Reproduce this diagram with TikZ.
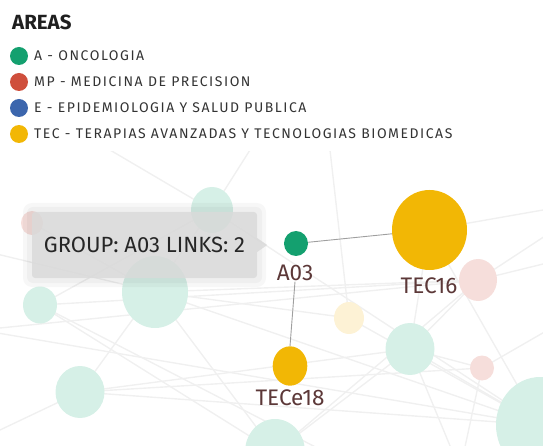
\documentclass[tikz,border=0pt]{standalone}
\usepackage{fontspec}
\setmainfont{Fira Sans}
\newfontfamily\legendfont[LetterSpace=11]{Fira Sans}
\usetikzlibrary{shapes.geometric}

\definecolor{oncoGreen}{HTML}{14A06F}
\definecolor{precRed}{HTML}{CF4F3C}
\definecolor{epiBlue}{HTML}{3C66AD}
\definecolor{tecYellow}{HTML}{F2B705}
\definecolor{fadeGreen}{HTML}{D6F0E7}
\definecolor{fadeRed}{HTML}{F6DEDB}
\definecolor{fadeYellow}{HTML}{FDF2D5}
\definecolor{labelBrown}{HTML}{5C3838}
\definecolor{webGrey}{HTML}{F0F0F0}
\definecolor{tipGrey}{HTML}{DADADA}

\tikzset{
  area/.style={circle,fill=#1,minimum size=18pt,inner sep=0pt},
  areatxt/.style={anchor=west,font=\legendfont\fontsize{14}{16}\selectfont,text=black!80,inner sep=0pt},
  blob/.style args={#1/#2/#3}{ellipse,fill=#1,minimum width=#2,minimum height=#3,inner sep=0pt},
  grouplabel/.style={font=\fontsize{22.5}{25}\selectfont,text=labelBrown,inner sep=1pt},
  link/.style={gray!75,line width=0.9pt},
  web/.style={webGrey,line width=1.4pt},
  tip/.style={fill=tipGrey,fill opacity=0.82,text opacity=1,rounded corners=3pt,minimum width=225pt,minimum height=66pt,font=\fontsize{22}{24}\selectfont,text=black!85}
}

\begin{document}
\begin{tikzpicture}[x=1pt,y=-1pt]
\useasboundingbox (0,0) rectangle (543,446);

% legend
\node[font=\bfseries\fontsize{20.5}{22}\selectfont,anchor=base west,inner sep=0pt,text=black!88] (title) at (12,29.5) {AREAS};
\foreach \col/\txt [count=\i] in {oncoGreen/A - ONCOLOGIA,precRed/MP - MEDICINA DE PRECISION,epiBlue/E - EPIDEMIOLOGIA Y SALUD PUBLICA,tecYellow/TEC - TERAPIAS AVANZADAS Y TECNOLOGIAS BIOMEDICAS}{
  \node[area=\col] (dot\i) at (19,30+26*\i) {};
  \node[areatxt] (key\i) at (34,30+26*\i) {\txt};
}

% faded network behind
\coordinate (g1) at (212,210);
\coordinate (g2) at (32,223);
\coordinate (g3) at (155,292);
\coordinate (g4) at (40,305);
\coordinate (g5) at (80,392);
\coordinate (g6) at (275,452);
\coordinate (g7) at (349,318);
\coordinate (g8) at (410,349);
\coordinate (g9) at (482,368);
\coordinate (g10) at (478,280);
\coordinate (g11) at (540,425);
\coordinate (g12) at (429,230);
\coordinate (o1) at (-20,330);
\coordinate (o2) at (600,200);
\coordinate (o3) at (600,300);
\coordinate (o4) at (0,430);
\coordinate (o5) at (150,470);
\coordinate (o6) at (250,150);
\coordinate (o7) at (110,150);
\coordinate (o8) at (-20,250);
\coordinate (o9) at (360,470);
\coordinate (o10) at (330,150);
\coordinate (o11) at (600,250);
\coordinate (o12) at (460,470);

\begin{scope}
\clip (-10,152) rectangle (553,456);
\foreach \a/\b in {g11/g3,g11/g5,g11/g1,g11/g8,g11/g7,g11/o1,g10/g3,g10/g8,g10/g6,g10/o2,g9/g8,g9/o3,g4/o9,g2/g3,g5/o4,g5/g8,g6/g8,g6/o5,g7/g3,g1/o6,g1/o7,g3/o8,g12/o2,g12/g11,g4/g1,g5/g1,g6/g3,g4/g6,g12/g8,g7/o10,g10/o1,g9/g5,g10/o11,g9/o12,g8/o12,g11/o11,g10/g4}
  \draw[web] (\a) -- (\b);
\end{scope}

\node[blob=fadeGreen/42pt/46pt] (bg1) at (g1) {};
\node[blob=fadeRed/22pt/24pt] (bg2) at (g2) {};
\node[blob=fadeGreen/66pt/72pt] (bg3) at (g3) {};
\node[blob=fadeGreen/34pt/37pt] (bg4) at (g4) {};
\node[blob=fadeGreen/49pt/52pt] (bg5) at (g5) {};
\node[blob=fadeGreen/60pt/66pt] (bg6) at (g6) {};
\node[blob=fadeYellow/30pt/32pt] (bg7) at (g7) {};
\node[blob=fadeGreen/49pt/52pt] (bg8) at (g8) {};
\node[blob=fadeRed/24pt/25pt] (bg9) at (g9) {};
\node[blob=fadeRed/38pt/42pt] (bg10) at (g10) {};
\node[blob=fadeGreen/88pt/96pt] (bg11) at (g11) {};

% highlighted group
\node[blob=oncoGreen/24pt/25pt] (A03) at (296,243.5) {};
\node[blob=tecYellow/75pt/80pt] (TEC16) at (429.5,230) {};
\node[blob=tecYellow/34.6pt/39.4pt] (TECe18) at (290,366) {};
\node[grouplabel] (A03lbl) at (295,272.5) {A03};
\node[grouplabel] (TEC16lbl) at (429,286) {TEC16};
\node[grouplabel] (TECe18lbl) at (290,398) {TECe18};
\draw[link] (A03) -- (TEC16);
\draw[link] (A03lbl.south) -- (TECe18.north);

% tooltip
\fill[black,opacity=0.03,rounded corners=9pt] (23,203) rectangle (266,287);
\fill[black,opacity=0.03,rounded corners=6pt] (27,207) rectangle (262,283);
\node[tip] (tooltip) at (144.5,245) {GROUP: A03 LINKS: 2};
\fill[tipGrey,opacity=0.82] ([yshift=7pt]tooltip.east) -- ([xshift=10pt]tooltip.east) -- ([yshift=-7pt]tooltip.east) -- cycle;
\end{tikzpicture}
\end{document}
